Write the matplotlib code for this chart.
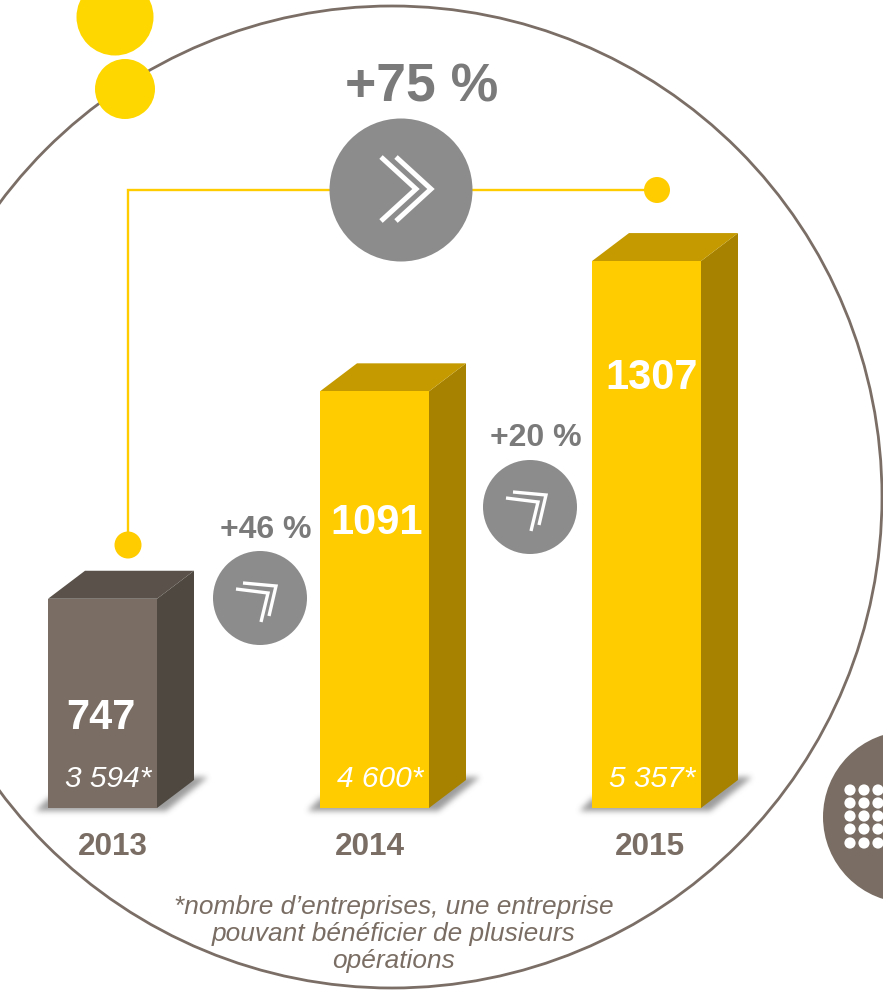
import matplotlib
matplotlib.use("Agg")
import matplotlib.pyplot as plt
import numpy as np
from matplotlib.patches import Circle, Ellipse, Polygon
from matplotlib.path import Path

years = ["2013", "2014", "2015"]
values = [747, 1091, 1307]
companies = ["3 594*", "4 600*", "5 357*"]
growth_labels = ["+46 %", "+20 %"]
total_growth = "+75 %"
footnote = "*nombre d\u2019entreprises, une entreprise\npouvant b\u00e9n\u00e9ficier de plusieurs\nop\u00e9rations"

FONT = "Liberation Sans"
W, H = 883, 990
BASE_VALUE = 400      # the reference's axis does not start at zero
PX_PER_UNIT = 0.603
BASE_PX = 808
X0_PX, STEP_PX = 102.5, 272
BAR_W = 109 / STEP_PX
DX, DY = 37 / STEP_PX, 28 / PX_PER_UNIT

YELLOW, GREY, TAUPE, RING = "#FFCC00", "#8C8C8C", "#7A6E64", "#7A6E66"
FRONT = [TAUPE, YELLOW, YELLOW]
SIDE = ["#4E4840", "#A68200", "#A68200"]
TOP = ["#5A524A", "#C49A00", "#C49A00"]

fig = plt.figure(figsize=(W / 100, H / 100), dpi=100, facecolor="white")


def pixel_axes(z):
    a = fig.add_axes([0, 0, 1, 1], zorder=z)
    a.set_xlim(0, W)
    a.set_ylim(H, 0)
    a.axis("off")
    a.patch.set_alpha(0)
    return a


def soft_shadow():
    """Blurred wedge under a bar, in pixels relative to the bar's lower left corner."""
    xs, ys = np.meshgrid(np.arange(-30, 190) + 0.5, np.arange(-50, 20) + 0.5)
    outline = Path([(-12, 3), (0, -10), (146, -31), (160, -31), (118, 3)])
    mask = outline.contains_points(np.c_[xs.ravel(), ys.ravel()]).reshape(xs.shape).astype(float)
    kernel = np.ones(5) / 5
    for _ in range(4):
        mask = np.apply_along_axis(lambda r: np.convolve(r, kernel, "same"), 0, mask)
        mask = np.apply_along_axis(lambda r: np.convolve(r, kernel, "same"), 1, mask)
    rgba = np.zeros(mask.shape + (4,))
    rgba[..., :3] = 0.45
    rgba[..., 3] = mask * 0.7
    return rgba


back = pixel_axes(1)
val = fig.add_axes([0, 0, 1, 1], zorder=2)
val.axis("off")
val.patch.set_alpha(0)
front = pixel_axes(3)

# ring and decorations
back.add_patch(Ellipse((392, 497), 980, 982, fill=False, ec=RING, lw=2.0))
back.add_patch(Circle((909, 817), 86, fc=TAUPE, ec="none"))
for cx in (850, 864, 878):
    for cy in (790, 803, 816, 829, 843):
        back.add_patch(Circle((cx, cy), 5.6, fc="white", ec="none"))
back.add_patch(Circle((115, 17), 38.5, fc="#FFD700", ec="none", zorder=5))
back.add_patch(Circle((125, 89), 30, fc="#FFD700", ec="none", zorder=5))

# bars
ux, uy = 1 / STEP_PX, 1 / PX_PER_UNIT
shadow_img = soft_shadow()
for i, v in enumerate(values):
    xl, xr = i - BAR_W / 2, i + BAR_W / 2
    val.imshow(shadow_img, extent=(xl - 30 * ux, xl + 190 * ux, BASE_VALUE - 20 * uy, BASE_VALUE + 50 * uy),
               origin="upper", aspect="auto", interpolation="bilinear", zorder=1)
    val.bar(i, v - BASE_VALUE, BAR_W, bottom=BASE_VALUE, color=FRONT[i], lw=0, zorder=3)
    val.add_patch(Polygon([(xr, BASE_VALUE), (xr + DX, BASE_VALUE + DY), (xr + DX, v + DY), (xr, v)],
                          closed=True, fc=SIDE[i], ec="none", zorder=2))
    val.add_patch(Polygon([(xl, v), (xl + DX, v + DY), (xr + DX, v + DY), (xr, v)],
                          closed=True, fc=TOP[i], ec="none", zorder=2))
val.set_xlim(-X0_PX / STEP_PX, (W - X0_PX) / STEP_PX)
val.set_ylim(BASE_VALUE - (H - BASE_PX) / PX_PER_UNIT, BASE_VALUE + BASE_PX / PX_PER_UNIT)

# connector
front.plot([128, 128, 657], [545, 190, 190], color=YELLOW, lw=1.7, solid_joinstyle="miter", zorder=1)
front.add_patch(Circle((128, 545), 13.5, fc=YELLOW, ec="none", zorder=2))
front.add_patch(Circle((657, 190), 13, fc=YELLOW, ec="none", zorder=2))

# arrow badges
front.add_patch(Circle((401, 190), 71.5, fc=GREY, ec="none", zorder=3))
for off in (0, 15):
    front.plot([381 + off, 416 + off, 381 + off], [157, 189, 221], color="white", lw=3.6,
               solid_joinstyle="miter", solid_capstyle="butt", zorder=4)
for cx, cy in ((260, 598), (530, 507)):
    front.add_patch(Circle((cx, cy), 47, fc=GREY, ec="none", zorder=3))
    for pts in (((-17, -15), (16, -12), (9, 18)), ((-24, -9), (8, -5), (1, 24))):
        front.plot([cx + p[0] for p in pts], [cy + p[1] for p in pts], color="white", lw=2.4,
                   solid_joinstyle="miter", solid_capstyle="butt", zorder=4)

# text
common = dict(family=FONT, ha="center", va="center", zorder=6)
front.text(422, 87, total_growth, fontsize=38.5, fontweight="bold", color="#7A7A7A", **common)
for (x, y), s in zip(((266, 530), (536, 438)), growth_labels):
    front.text(x, y, s, fontsize=23, fontweight="bold", color="#7A7A7A", **common)
for (x, y), s in zip(((101, 718), (377, 523), (652, 378)), values):
    front.text(x, y, str(s), fontsize=30, fontweight="bold", color="white", **common)
for x, s in zip((108, 380, 652), companies):
    front.text(x, 779, s, fontsize=21.5, fontstyle="italic", color="white", **common)
for x, s in zip((113, 370, 650), years):
    front.text(x, 847, s, fontsize=22.7, fontweight="bold", color=TAUPE, **common)
front.text(394, 934, footnote, fontsize=18.9, fontstyle="italic", color=TAUPE, linespacing=1.17, **common)

fig.savefig("out.png", dpi=100, facecolor="white")
